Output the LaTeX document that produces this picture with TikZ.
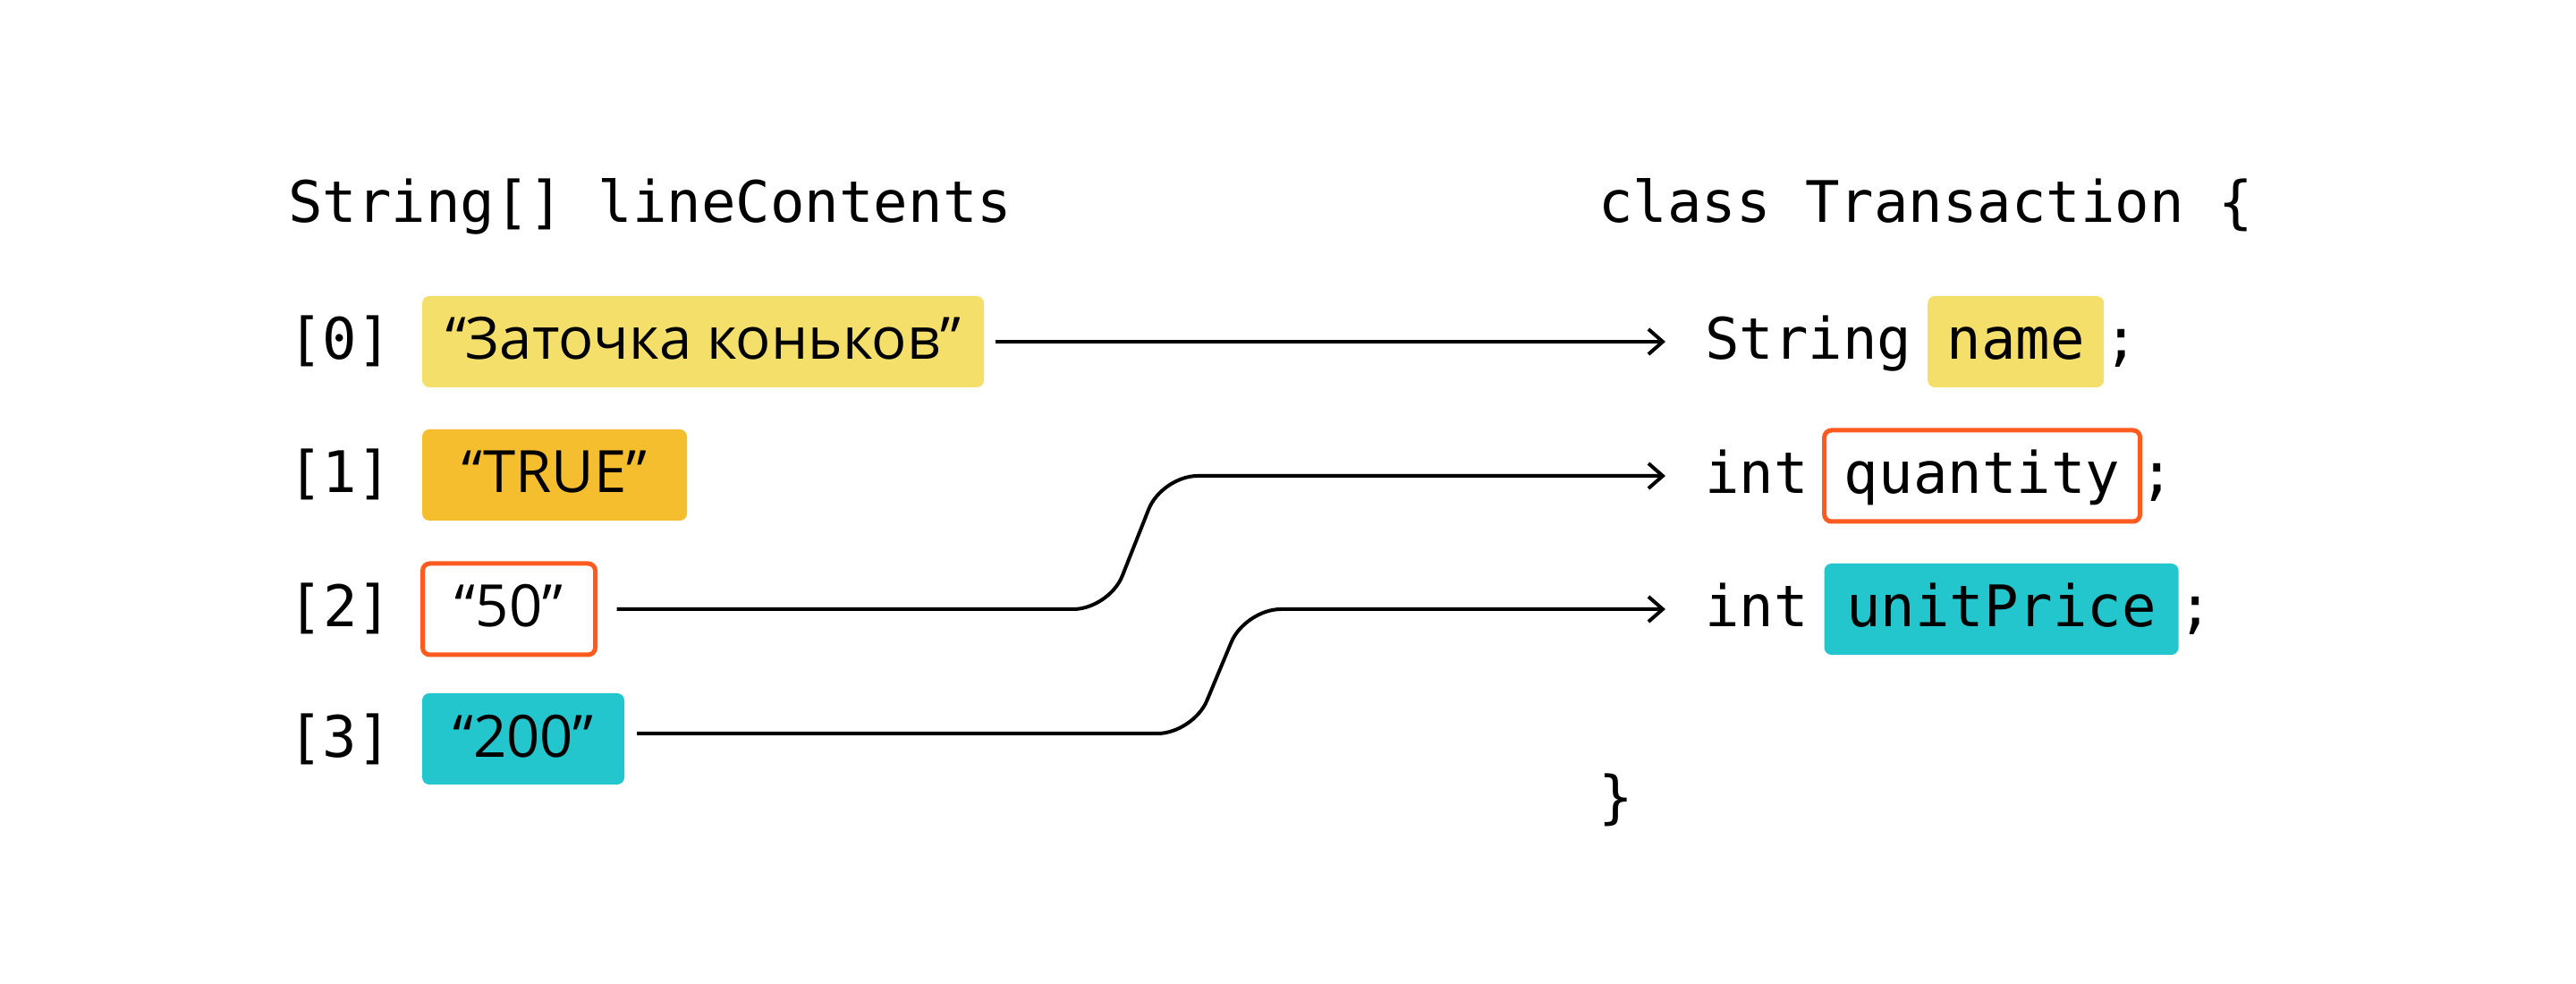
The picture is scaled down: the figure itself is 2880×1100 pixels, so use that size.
\documentclass[tikz,border=0pt]{standalone}
\usepackage{fontspec}
\setmainfont{Open Sans}
\setmonofont{DejaVu Sans Mono}
\usepackage{tikz}
\usetikzlibrary{arrows.meta,positioning}
\definecolor{lyellow}{HTML}{F4DF6B}
\definecolor{dyellow}{HTML}{F5BE2F}
\definecolor{rorange}{HTML}{FF5A1F}
\definecolor{tcyan}{HTML}{22C6CC}

\begin{document}
\begin{tikzpicture}[x=0.25pt,y=-0.25pt,
  every node/.style={inner sep=0pt,outer sep=0pt,text height=12pt,text depth=2pt},
  code/.style={font=\fontsize{16pt}{19pt}\ttfamily},
  str/.style={font=\fontsize{16.3pt}{19pt}\selectfont,rounded corners=2pt,minimum height=25.5pt},
  fld/.style={code,rounded corners=2pt,minimum height=25.5pt},
  hot/.style={draw=rorange,line width=1.25pt,fill=white},
  link/.style={line width=1pt,rounded corners=10pt,-{Straight Barb[length=4pt,width=7pt]}}]

\fill[white] (0,0) rectangle (2880,1100);

\def\rowA{382}
\def\rowB{531}
\def\rowC{681}
\def\rowD{826}

% the array
\node[code,anchor=base west] (arr) at (322,249) {String[] lineContents};
\node[str,fill=lyellow,minimum width=157pt,anchor=west] (v0) at (472,\rowA) {“Заточка коньков”};
\node[str,fill=dyellow,minimum width=74pt,anchor=west] (v1) at (472,\rowB) {“TRUE”};
\node[str,hot,minimum width=48.25pt,anchor=west] (v2) at (472.5,\rowC) {“50”};
\node[str,fill=tcyan,minimum width=56.5pt,anchor=west] (v3) at (472,\rowD) {“200”};
\foreach \i in {0,...,3}
  \node[code,left=8.5pt of v\i] (i\i) {[\i]};

% the class
\node[code,anchor=base west] (cls) at (1787,249) {class Transaction \{};
\node[code,anchor=west] (t0) at (1906,\rowA) {String};
\node[fld,fill=lyellow,minimum width=49.25pt,right=4.5pt of t0] (f0) {name};
\node[code,right=0pt of f0] (s0) {;};
\node[code,anchor=west] (t1) at (1906,532) {int};
\node[fld,hot,minimum width=88.25pt,right=4.5pt of t1] (f1) {quantity};
\node[code,right=0pt of f1] (s1) {;};
\node[code,anchor=west] (t2) at (1906,\rowC) {int};
\node[fld,fill=tcyan,minimum width=99pt,right=4.5pt of t2] (f2) {unitPrice};
\node[code,right=0pt of f2] (s2) {;};
\node[code,anchor=base west] (cend) at (1787,914) {\}};

% links
\draw[link,shorten <=3.25pt,shorten >=11pt] (v0.east) -- (t0.west);
\draw[link,shorten <=6pt,shorten >=11pt] (v2.east) -- (1240,\rowC) -- (1299,532) -- (t1.west);
\draw[link,shorten <=3.5pt,shorten >=11pt] ([yshift=1.5pt]v3.east) -- (1334,820) -- (1392,\rowC) -- (t2.west);
\end{tikzpicture}
\end{document}
